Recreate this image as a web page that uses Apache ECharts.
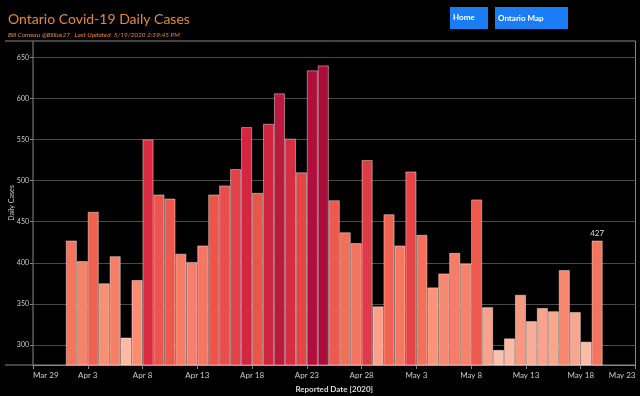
<!DOCTYPE html>
<html>
<head>
<meta charset="utf-8">
<script src="https://cdn.jsdelivr.net/npm/echarts@6/dist/echarts.min.js"></script>
<style>
  html, body { margin: 0; padding: 0; background: #000; }
  #chart { width: 640px; height: 396px; }
</style>
</head>
<body>
<div id="chart"></div>
<script>
// daily reported cases, Apr 1 .. May 19 2020
var firstDate = '2020-04-01';
var cases = [
  427, 402, 462, 375, 408, 309, 379, 550, 483, 478,
  411, 401, 421, 483, 494, 514, 565, 485, 569, 606,
  551, 510, 634, 640, 476, 437, 424, 525, 347, 459,
  421, 511, 434, 370, 387, 412, 399, 477, 346, 294,
  308, 361, 329, 345, 341, 391, 340, 304, 427
];
// x axis runs Mar 29 .. May 23, ticks every 5 days
var axisStart = '2020-03-29';
var xTickLabels = ['Mar 29', 'Apr 3', 'Apr 8', 'Apr 13', 'Apr 18', 'Apr 23', 'Apr 28', 'May 3', 'May 8', 'May 13', 'May 18', 'May 23'];
var yTicks = [300, 350, 400, 450, 500, 550, 600, 650];

var DAY = 86400000;
var offset = Math.round((Date.parse(firstDate) - Date.parse(axisStart)) / DAY);

var barData = cases.map(function(v, i){
  var item = { value: [offset + i + 0.5, v] };
  if (i === cases.length - 1) {
    item.label = { show: true };
  }
  return item;
});

var myChart = echarts.init(document.getElementById('chart'));
var option = {
  backgroundColor: '#000',
  animation: false,
  title: {
    text: 'Ontario Covid-19 Daily Cases',
    subtext: 'Bill Comeau @Billius27   Last Updated  5/19/2020 2:39:45 PM',
    left: 3,
    top: 7,
    itemGap: 5,
    textStyle: { color: '#e08a3e', fontSize: 14, fontWeight: 'normal', fontFamily: 'Lato' },
    subtextStyle: { color: '#e08a3e', fontSize: 6.5, fontStyle: 'italic', fontFamily: 'Lato' }
  },
  grid: {
    left: 33, right: 4.5, top: 41, bottom: 31,
    outerBoundsMode: 'none',
    containLabel: false,
    show: true, borderColor: '#888', borderWidth: 1
  },
  visualMap: {
    show: false,
    type: 'continuous',
    dimension: 1,
    min: 294,
    max: 640,
    inRange: { color: ['#fdc2ae', '#f88c73', '#ef5f4e', '#d92a40', '#ab0d3b'] }
  },
  xAxis: {
    type: 'value',
    min: 0,
    max: 55,
    interval: 5,
    name: 'Reported Date [2020]',
    nameLocation: 'middle',
    nameGap: 20,
    nameTextStyle: { color: '#ddd', fontSize: 8, fontWeight: 'bold', fontFamily: 'Lato' },
    axisLine: { lineStyle: { color: '#888' } },
    axisTick: { show: true, length: 4, lineStyle: { color: '#888' } },
    splitLine: { show: false },
    axisLabel: {
      color: '#ccc', fontSize: 8, fontFamily: 'Lato', margin: 6,
      alignMinLabel: 'left', alignMaxLabel: 'right',
      formatter: function(v){ return xTickLabels[Math.round(v / 5)] || ''; }
    }
  },
  yAxis: {
    type: 'value',
    min: 275.7,
    max: 669.8,
    name: 'Daily Cases',
    nameLocation: 'middle',
    nameRotate: 90,
    nameGap: 18,
    nameMoveOverlap: false,
    nameTextStyle: { color: '#ccc', fontSize: 7, fontFamily: 'Lato' },
    axisLine: { show: false },
    axisTick: { show: true, length: 3, customValues: yTicks, lineStyle: { color: '#888' } },
    axisLabel: { color: '#ccc', fontSize: 7, fontFamily: 'Lato', margin: 4, customValues: yTicks },
    splitLine: { show: true, lineStyle: { color: '#4a4a4a', width: 1 } }
  },
  graphic: [
    { type: 'line', shape: { x1: 5, y1: 41, x2: 33, y2: 41 }, style: { stroke: '#888', lineWidth: 1 } },
    { type: 'line', shape: { x1: 5, y1: 365, x2: 33, y2: 365 }, style: { stroke: '#888', lineWidth: 1 } },
    { type: 'rect', shape: { x: 450, y: 7, width: 38, height: 22 }, style: { fill: '#1a7df6' } },
    { type: 'text', left: 453, top: 13, style: { text: 'Home', fill: '#fff', font: 'bold 8px Lato' } },
    { type: 'rect', shape: { x: 495, y: 7, width: 73, height: 22 }, style: { fill: '#1a7df6' } },
    { type: 'text', left: 498, top: 14, style: { text: 'Ontario Map', fill: '#fff', font: 'bold 8px Lato' } }
  ],
  series: [
    {
      type: 'bar',
      barWidth: 10.95,
      data: barData,
      itemStyle: { borderColor: 'rgba(255,255,255,0.55)', borderWidth: 0.8 },
      label: { show: false, position: 'top', color: '#ddd', fontSize: 8, fontFamily: 'Lato', distance: 3 }
    }
  ]
};
myChart.setOption(option);
</script>
</body>
</html>
